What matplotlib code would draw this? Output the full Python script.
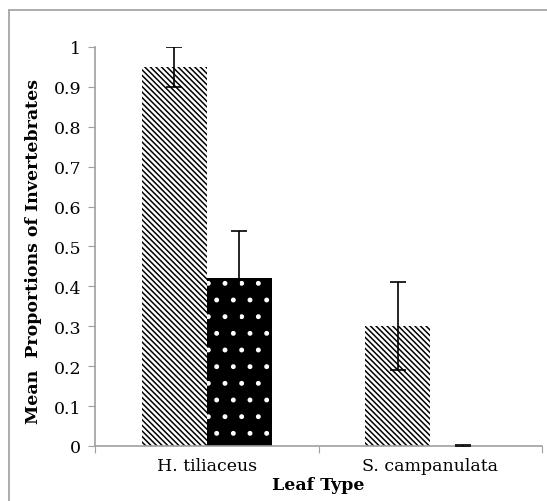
import numpy as np
import matplotlib
matplotlib.use('Agg')
from matplotlib import pyplot as plt
from matplotlib.lines import Line2D

# 数据
categories = ['H. tiliaceus', 'S. campanulata']
hatched_means = [0.95, 0.30]
hatched_err = [0.05, 0.11]
dotted_means = [0.42, 0.0]
dotted_err = [0.12, 0.003]
y_ticks = [0, 0.1, 0.2, 0.3, 0.4, 0.5, 0.6, 0.7, 0.8, 0.9, 1]
y_tick_labels = ['0', '0.1', '0.2', '0.3', '0.4', '0.5', '0.6', '0.7', '0.8', '0.9', '1']

plt.rcParams['font.family'] = ['DejaVu Serif']
plt.rcParams['hatch.linewidth'] = 1.1

fig = plt.figure(figsize=(5.47, 5.02), dpi=100)
ax = fig.add_axes([0.1737, 0.1096, 0.8173, 0.7948])

x = np.arange(len(categories))
width = 0.29
spine_gray = '#a0a0a0'

# --- 斜线柱 ---
ax.bar(x - width / 2, hatched_means, width, facecolor='white', edgecolor='black',
       linewidth=0, hatch='\\' * 6, zorder=2)
# --- 黑底白点柱 ---
ax.bar(x + width / 2, dotted_means, width, facecolor='black', edgecolor='white',
       linewidth=0, hatch='.', zorder=2)

ax.errorbar(x - width / 2, hatched_means, yerr=hatched_err, fmt='none', ecolor='black',
            elinewidth=1.2, capsize=6, capthick=1.2, zorder=3)
ax.errorbar(x + width / 2, dotted_means, yerr=dotted_err, fmt='none', ecolor='black',
            elinewidth=1.2, capsize=6, capthick=1.2, zorder=3)

# --- 坐标轴 ---
ax.set_xlim(-0.5, 1.5)
ax.set_ylim(0, 1)
ax.set_yticks(y_ticks)
ax.set_yticklabels(y_tick_labels, fontsize=12.5)
ax.set_xticks([-0.5, 0.5, 1.5])
ax.set_xticklabels([])
ax.set_xticks(x, minor=True)
ax.set_xticklabels(categories, minor=True, fontsize=12.5)
ax.tick_params(axis='x', which='minor', length=0, pad=8)
ax.tick_params(axis='x', which='major', direction='out', length=5, color=spine_gray)
ax.tick_params(axis='y', direction='out', length=5, color=spine_gray, pad=5)

for side in ['top', 'right']:
    ax.spines[side].set_visible(False)
for side in ['left', 'bottom']:
    ax.spines[side].set_color(spine_gray)
    ax.spines[side].set_linewidth(1.2)

ax.set_ylabel('Mean  Proportions of Invertebrates', fontsize=12.5, fontweight='bold')
ax.yaxis.set_label_coords(-0.118, 0.49)
ax.set_xlabel('Leaf Type', fontsize=12.5, fontweight='bold')
ax.xaxis.set_label_coords(0.5, -0.075)

# --- 外框 ---
fig.add_artist(Line2D([8.5 / 547, 8.5 / 547], [0, 1 - 10.5 / 502], transform=fig.transFigure,
                      color='#a6a6a6', linewidth=1.3))
fig.add_artist(Line2D([8.5 / 547, 1], [1 - 10.5 / 502, 1 - 10.5 / 502], transform=fig.transFigure,
                      color='#a6a6a6', linewidth=1.3))

fig.savefig('out.png', dpi=100)
